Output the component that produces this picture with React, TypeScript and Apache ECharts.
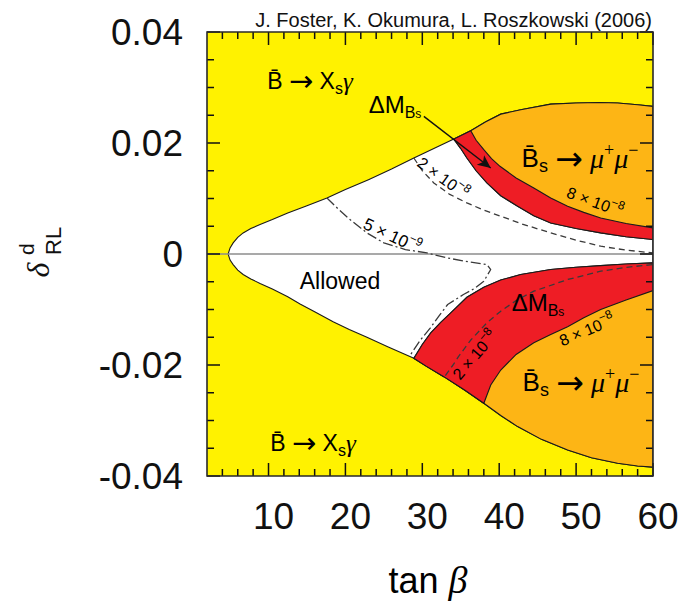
import React, { useEffect, useRef } from 'react';
import * as echarts from 'echarts';

// Axis ranges and tick values
const xMin = 2;
const xMax = 60;
const yMin = -0.04;
const yMax = 0.04;
const xMajorTicks = [10, 20, 30, 40, 50, 60];
const xMinorTicks = [4, 6, 8, 12, 14, 16, 18, 22, 24, 26, 28, 32, 34, 36, 38, 42, 44, 46, 48, 52, 54, 56, 58];
const yMajorTicks = [-0.04, -0.02, 0, 0.02, 0.04];
const yMinorTicks = [-0.035, -0.03, -0.025, -0.015, -0.01, -0.005, 0.005, 0.01, 0.015, 0.025, 0.03, 0.035];

// Edge of the region allowed by B -> Xs gamma, upper branch (tip -> right edge)
const upperEdgeX = [4.75, 5.0, 5.4, 6.0, 6.7, 7.7, 8.9, 10.5, 12.5, 15, 17.6, 20, 23, 26, 28.9, 31.5, 34.1, 36.3, 38.2, 40.2, 42.8, 46.7, 50, 53, 55.4, 58, 60];
const upperEdgeY = [0, 0.0011, 0.002, 0.003, 0.0038, 0.0046, 0.0053, 0.0062, 0.0074, 0.0087, 0.0101, 0.0116, 0.0134, 0.0153, 0.0173, 0.019, 0.0207, 0.0222, 0.0238, 0.0252, 0.026, 0.027, 0.0272, 0.0273, 0.0272, 0.0269, 0.0266];

// Same edge, lower branch
const lowerEdgeX = [4.75, 5.0, 5.4, 6.0, 6.7, 7.7, 8.9, 10.5, 12.5, 14.1, 16, 18.4, 20.5, 22.8, 25.5, 28.9, 30.5, 32.8, 35.5, 38.0, 40.2, 42.4, 45.5, 48.9, 52, 55.4, 58, 60];
const lowerEdgeY = [0, -0.0011, -0.0019, -0.0029, -0.0037, -0.0045, -0.0053, -0.0063, -0.0077, -0.009, -0.0104, -0.0122, -0.0136, -0.015, -0.0167, -0.0188, -0.0202, -0.0221, -0.0245, -0.0269, -0.0291, -0.0311, -0.0334, -0.0353, -0.0367, -0.0377, -0.0382, -0.0384];

// Delta M_Bs excluded band, upper half: inner (allowed side) and outer (Bs -> mu mu side)
const upRedInnerX = [34.1, 35.0, 35.8, 37.0, 38.4, 40.2, 42.4, 44.5, 46.7, 50, 53.2, 56.5, 60];
const upRedInnerY = [0.0207, 0.019, 0.0173, 0.015, 0.0128, 0.0105, 0.0086, 0.0069, 0.0056, 0.0046, 0.0038, 0.0031, 0.0026];
const upRedOuterX = [36.3, 37.0, 38.0, 39.0, 40.1, 42.2, 44.5, 46.7, 48.9, 51, 53.2, 56.5, 60];
const upRedOuterY = [0.0222, 0.0205, 0.0188, 0.0172, 0.0158, 0.0137, 0.0119, 0.0101, 0.0086, 0.0075, 0.0065, 0.0055, 0.0047];

// Delta M_Bs excluded band, lower half
const loRedInnerX = [28.9, 30.0, 31.1, 32.4, 33.7, 35.8, 38.0, 40.2, 42.8, 46.7, 50, 53.2, 56.5, 60];
const loRedInnerY = [-0.0188, -0.0163, -0.0142, -0.0123, -0.0106, -0.0078, -0.006, -0.0047, -0.0037, -0.0028, -0.0024, -0.0021, -0.0018, -0.0016];
const loRedOuterX = [38.0, 38.9, 40.2, 42.2, 44.5, 46.7, 48.9, 51, 53.2, 56.5, 60];
const loRedOuterY = [-0.0269, -0.0236, -0.0209, -0.0181, -0.016, -0.0145, -0.0131, -0.0115, -0.01, -0.0083, -0.0066];

// BR(Bs -> mu mu) contours
const c2e8UpX = [28.9, 30.0, 31.5, 33.5, 35.8, 38, 40.2, 43, 46.7, 50, 53.2, 56.5, 60];
const c2e8UpY = [0.0173, 0.015, 0.0128, 0.0108, 0.0092, 0.0079, 0.0068, 0.0054, 0.0038, 0.0025, 0.0014, 0.0007, 0.0002];
const c2e8LoX = [33.0, 34.0, 34.7, 36.3, 38.4, 40.2, 42.3, 44.5, 48.9, 53.2, 56.5, 60];
const c2e8LoY = [-0.0219, -0.02, -0.0185, -0.0155, -0.0124, -0.0103, -0.0083, -0.0067, -0.0046, -0.0031, -0.0024, -0.0019];
const c5e9X = [17.6, 19.0, 20.6, 22.8, 25.0, 27.8, 30.6, 33.2, 36.0, 38.4, 38.9, 38.0, 36.8, 35.35, 33.3, 32.2, 31.05, 29.7, 28.4];
const c5e9Y = [0.0101, 0.0082, 0.0062, 0.0038, 0.002, 0.0008, 0.0002, -0.0007, -0.0014, -0.0019, -0.0028, -0.0049, -0.0062, -0.0073, -0.0091, -0.0111, -0.0133, -0.0156, -0.0183];

// Pointer from the Delta M_Bs label to its band
const arrowFrom = [30.2, 0.0248];
const arrowTo = [38.9, 0.0155];

const YELLOW = '#FFF200';
const ORANGE = '#FDB515';
const RED = '#EE1D25';
const INK = '#1a1a1a';
const FRAME = '#111111';
const SANS = 'Liberation Sans';
const SERIF = 'Liberation Serif';

const zip = (xs: number[], ys: number[]) => xs.map((x, i) => [x, ys[i]]);
const between = (xs: number[], ys: number[], a: number, b: number) =>
  zip(xs, ys).filter((p) => p[0] >= a && p[0] <= b);

const upper = zip(upperEdgeX, upperEdgeY);
const lower = zip(lowerEdgeX, lowerEdgeY);

const framePoly = [
  [xMin, yMin],
  [xMax, yMin],
  [xMax, yMax],
  [xMin, yMax],
];
const whitePoly = [...upper, ...lower.slice().reverse()];
const orangeUpPoly = [
  ...zip(upRedInnerX, upRedInnerY),
  ...between(upperEdgeX, upperEdgeY, upRedInnerX[0], xMax).reverse(),
];
const redUpPoly = [...zip(upRedInnerX, upRedInnerY), ...zip(upRedOuterX, upRedOuterY).reverse()];
const orangeLoPoly = [
  ...zip(loRedInnerX, loRedInnerY),
  ...between(lowerEdgeX, lowerEdgeY, loRedInnerX[0], xMax).reverse(),
];
const redLoPoly = [
  ...zip(loRedInnerX, loRedInnerY),
  ...zip(loRedOuterX, loRedOuterY).reverse(),
  ...between(lowerEdgeX, lowerEdgeY, loRedInnerX[0], loRedOuterX[0]).reverse(),
];

const polygonSeries = (name: string, poly: number[][], fill: string, z: number, stroke = true) => ({
  name,
  type: 'custom',
  xAxisIndex: 0,
  yAxisIndex: 0,
  z,
  silent: true,
  clip: true,
  data: [[poly[0][0], poly[0][1]]],
  renderItem: (_params: any, api: any) => ({
    type: 'polygon',
    shape: { points: poly.map((p) => api.coord(p)) },
    style: stroke ? { fill, stroke: INK, lineWidth: 1.1 } : { fill },
  }),
});

const contourSeries = (name: string, xs: number[], ys: number[], dash: number[]) => ({
  name,
  type: 'line',
  xAxisIndex: 0,
  yAxisIndex: 0,
  z: 5,
  silent: true,
  showSymbol: false,
  symbol: 'none',
  data: zip(xs, ys),
  lineStyle: { color: '#3a3a3a', width: 1.3, type: dash },
});

// Inward ticks on all four sides plus the plot frame
const MAJOR_LEN = 13;
const MINOR_LEN = 7;
const tickStyle = { stroke: FRAME, lineWidth: 1.5 };
const frameSeries = {
  name: 'frame',
  type: 'custom',
  xAxisIndex: 0,
  yAxisIndex: 0,
  z: 40,
  silent: true,
  clip: false,
  data: [[xMin, yMin]],
  renderItem: (_params: any, api: any) => {
    const children: any[] = [];
    const xTick = (v: number, len: number) => {
      const b = api.coord([v, yMin]);
      const t = api.coord([v, yMax]);
      children.push({ type: 'line', shape: { x1: b[0], y1: b[1], x2: b[0], y2: b[1] - len }, style: tickStyle });
      children.push({ type: 'line', shape: { x1: t[0], y1: t[1], x2: t[0], y2: t[1] + len }, style: tickStyle });
    };
    const yTick = (v: number, len: number) => {
      const l = api.coord([xMin, v]);
      const r = api.coord([xMax, v]);
      children.push({ type: 'line', shape: { x1: l[0], y1: l[1], x2: l[0] + len, y2: l[1] }, style: tickStyle });
      children.push({ type: 'line', shape: { x1: r[0], y1: r[1], x2: r[0] - len, y2: r[1] }, style: tickStyle });
    };
    xMajorTicks.forEach((v) => xTick(v, MAJOR_LEN));
    xMinorTicks.forEach((v) => xTick(v, MINOR_LEN));
    yMajorTicks.forEach((v) => yTick(v, MAJOR_LEN));
    yMinorTicks.forEach((v) => yTick(v, MINOR_LEN));
    children.push({
      type: 'polygon',
      shape: { points: framePoly.map((p) => api.coord(p)) },
      style: { fill: 'none', stroke: '#2a2a2a', lineWidth: 1.6 },
    });
    return { type: 'group', children };
  },
};

// Rich-text styles for the physics labels
const richBase = (size: number) => ({
  n: { fontSize: size, fontFamily: SANS, color: '#111', lineHeight: size + 8 },
  a: { fontSize: Math.round(size * 1.25), fontFamily: 'DejaVu Sans', color: '#111', lineHeight: size + 8 },
  g: { fontSize: size + 2, fontFamily: SERIF, fontStyle: 'italic', color: '#111', lineHeight: size + 8 },
  s: { fontSize: Math.round(size * 0.68), fontFamily: SANS, color: '#111', verticalAlign: 'bottom', lineHeight: Math.round(size * 0.68) + 1 },
  ss: { fontSize: Math.round(size * 0.5), fontFamily: SANS, color: '#111', verticalAlign: 'bottom', lineHeight: Math.round(size * 0.5) - 2 },
  p: { fontSize: Math.round(size * 0.68), fontFamily: SERIF, color: '#111', verticalAlign: 'top', lineHeight: Math.round(size * 0.68) + 1 },
});
const expRich = (size: number) => ({
  n: { fontSize: size, fontFamily: SANS, color: '#222', lineHeight: size + 8 },
  e: { fontSize: Math.round(size * 0.72), fontFamily: SANS, color: '#222', verticalAlign: 'top', lineHeight: Math.round(size * 0.72) },
});

const label = (x: number, y: number, text: string, rich: any, rotation = 0) => ({
  type: 'text',
  x,
  y,
  rotation,
  silent: true,
  z: 30,
  style: { text, rich, align: 'center', verticalAlign: 'middle' },
});

const bsg = '{n|B\u0304 }{a|\u2192}{n| X}{s|s}{g|\u03b3}';
const dmbs = '{n|\u0394M}{s|B}{ss|s}';
const bsmm = '{n|B\u0304}{s|s}{n| }{a|\u2192}{n| }{g|\u03bc}{p|+}{g|\u03bc}{p|\u2212}';

const option = {
  animation: false,
  backgroundColor: '#ffffff',
  grid: {
    left: 207,
    right: 32,
    top: 32,
    bottom: 126,
    show: false,
  },
  xAxis: {
    type: 'value',
    min: xMin,
    max: xMax,
    position: 'bottom',
    axisLine: { show: false, onZero: false },
    axisTick: { show: false },
    axisLabel: {
      show: true,
      customValues: xMajorTicks,
      fontSize: 37,
      fontFamily: SANS,
      color: '#111',
      margin: 22,
      padding: [0, 0, 0, 10],
    },
    splitLine: { show: false },
  },
  yAxis: {
    type: 'value',
    min: yMin,
    max: yMax,
    interval: 0.02,
    position: 'left',
    axisLine: { show: false, onZero: false },
    axisTick: { show: false },
    axisLabel: {
      show: true,
      fontSize: 37,
      fontFamily: SANS,
      color: '#111',
      margin: 24,
      formatter: (v: number) => (Math.abs(v) < 1e-9 ? '0' : v.toFixed(2)),
    },
    splitLine: { show: false },
  },
  series: [
    polygonSeries('excluded', framePoly, YELLOW, 0, false),
    polygonSeries('allowed', whitePoly, '#ffffff', 1),
    polygonSeries('bsmumu-up', orangeUpPoly, ORANGE, 2),
    polygonSeries('dmbs-up', redUpPoly, RED, 3),
    polygonSeries('bsmumu-lo', orangeLoPoly, ORANGE, 2),
    polygonSeries('dmbs-lo', redLoPoly, RED, 3),
    {
      name: 'zero',
      type: 'line',
      xAxisIndex: 0,
      yAxisIndex: 0,
      z: 4,
      silent: true,
      showSymbol: false,
      symbol: 'none',
      data: [
        [xMin, 0],
        [xMax, 0],
      ],
      lineStyle: { color: '#8c8c8c', width: 1.6 },
    },
    contourSeries('2e-8 upper', c2e8UpX, c2e8UpY, [6, 4]),
    contourSeries('2e-8 lower', c2e8LoX, c2e8LoY, [6, 4]),
    contourSeries('5e-9', c5e9X, c5e9Y, [10, 3, 2, 3]),
    {
      name: 'pointer',
      type: 'line',
      xAxisIndex: 0,
      yAxisIndex: 0,
      z: 6,
      silent: true,
      showSymbol: false,
      symbol: 'none',
      data: [arrowFrom, arrowTo],
      lineStyle: { opacity: 0 },
      markLine: {
        silent: true,
        symbol: ['none', 'arrow'],
        symbolSize: [9, 13],
        label: { show: false },
        lineStyle: { color: '#111', width: 1.4, type: 'solid' },
        data: [[{ coord: arrowFrom }, { coord: arrowTo }]],
      },
    },
    frameSeries,
  ],
  graphic: [
    {
      type: 'text',
      right: 33,
      top: 10,
      silent: true,
      style: { text: 'J. Foster, K. Okumura, L. Roszkowski (2006)', fontSize: 20, fontFamily: SANS, fill: '#111' },
    },
    label(310, 81, bsg, richBase(23)),
    label(313, 443, bsg, richBase(23)),
    label(395, 104, dmbs, richBase(24)),
    label(538, 302, dmbs, richBase(24)),
    label(580, 158, bsmm, richBase(26)),
    label(581, 382, bsmm, richBase(26)),
    label(340, 281, '{n|Allowed}', richBase(23)),
    label(595, 202, '{n|8 \u00d7 10}{e|\u22128}', expRich(16), -0.35),
    label(443, 178, '{n|2 \u00d7 10}{e|\u22128}', expRich(16), -0.63),
    label(392, 236, '{n|5 \u00d7 10}{e|\u22129}', expRich(17), -0.44),
    label(587, 330, '{n|8 \u00d7 10}{e|\u22128}', expRich(16), 0.4),
    label(475, 355, '{n|2 \u00d7 10}{e|\u22128}', expRich(16), 0.86),
    {
      type: 'text',
      x: 428,
      y: 580,
      silent: true,
      style: {
        text: '{a|tan }{b|\u03b2}',
        align: 'center',
        verticalAlign: 'middle',
        rich: {
          a: { fontSize: 36, fontFamily: SANS, color: '#111' },
          b: { fontSize: 38, fontFamily: SERIF, fontStyle: 'italic', color: '#111' },
        },
      },
    },
    {
      type: 'group',
      x: 40,
      y: 256,
      rotation: Math.PI / 2,
      silent: true,
      children: [
        {
          type: 'text',
          x: -14,
          y: -2,
          style: { text: '\u03b4', fontSize: 32, fontFamily: SERIF, fontStyle: 'italic', fill: '#111', align: 'center', verticalAlign: 'middle' },
        },
        {
          type: 'text',
          x: 1,
          y: -14,
          style: { text: 'd', fontSize: 21, fontFamily: SANS, fill: '#111', align: 'left', verticalAlign: 'middle' },
        },
        {
          type: 'text',
          x: 1,
          y: 13,
          style: { text: 'RL', fontSize: 22, fontFamily: SANS, fill: '#111', align: 'left', verticalAlign: 'middle' },
        },
      ],
    },
  ],
};

export default function App() {
  const ref = useRef<HTMLDivElement>(null);
  useEffect(() => {
    const chart = echarts.init(ref.current as HTMLDivElement, null, { renderer: 'svg' });
    chart.setOption(option as any);
    return () => chart.dispose();
  }, []);
  return (
    <div
      ref={ref}
      style={{ position: 'fixed', left: 0, top: 0, width: 685, height: 602, background: '#ffffff' }}
    />
  );
}
